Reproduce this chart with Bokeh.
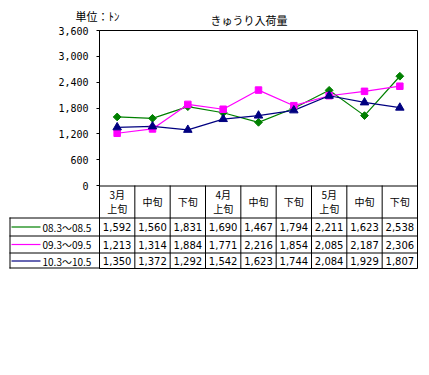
import numpy as np
from bokeh.plotting import figure
from bokeh.models import Range1d, FixedTicker, NumeralTickFormatter
from bokeh.core.properties import value
from bokeh.embed import file_html
from bokeh.resources import INLINE

# ---- data ----
periods = ["3月\n上旬", "中旬", "下旬", "4月\n上旬", "中旬", "下旬", "5月\n上旬", "中旬", "下旬"]
series_names = ["08.3～08.5", "09.3～09.5", "10.3～10.5"]
s08 = [1592, 1560, 1831, 1690, 1467, 1794, 2211, 1623, 2538]
s09 = [1213, 1314, 1884, 1771, 2216, 1854, 2085, 2187, 2306]
s10 = [1350, 1372, 1292, 1542, 1623, 1744, 2084, 1929, 1807]
y_ticks = [0, 600, 1200, 1800, 2400, 3000, 3600]
title_text = "きゅうり入荷量"
unit_text = "単位：ﾄﾝ"

series = [s08, s09, s10]
colors = ["#008000", "#FF00FF", "#000080"]
markers = ["square", "square", "triangle"]
angles = [np.pi / 4, 0, 0]
sizes = [5.5, 6.5, 8.5]

JP = "Noto Sans CJK JP"
NUM = "DejaVu Sans"

# ---- layout (reference pixel coordinates) ----
FR_L, FR_R, FR_T, FR_B = 99, 417, 30, 268
ZERO_Y = 185
YMAX = y_ticks[-1]
y0 = -(FR_B - ZERO_Y) / (ZERO_Y - FR_T) * YMAX
n = len(periods)

p = figure(width=FR_R + 4, height=FR_B + 5, output_backend="svg", toolbar_location=None,
           x_range=Range1d(0, n), y_range=Range1d(y0, YMAX),
           x_axis_location=None,
           min_border_left=FR_L, min_border_right=4,
           min_border_top=FR_T, min_border_bottom=5,
           background_fill_color="white", border_fill_color="white")
p.extra_x_ranges = {"px": Range1d(FR_L, FR_R)}
p.extra_y_ranges = {"px": Range1d(FR_B, FR_T)}
p.xgrid.visible = False
p.ygrid.visible = False
p.outline_line_color = "black"
p.outline_line_width = 1
p.outline_line_alpha = 1

ax = p.yaxis[0]
ax.ticker = FixedTicker(ticks=y_ticks)
ax.formatter = NumeralTickFormatter(format="0,0")
ax.major_tick_out = 3
ax.major_tick_in = 0
ax.minor_tick_out = 0
ax.minor_tick_in = 0
ax.axis_line_color = "black"
ax.major_tick_line_color = "black"
ax.major_label_standoff = 8
ax.major_label_text_font = "DejaVu Sans Mono"
ax.major_label_text_font_size = "10px"
ax.major_label_text_color = "black"

# ---- series ----
xc = [i + 0.5 for i in range(n)]
for vals, c in zip(series, colors):
    p.line(xc, vals, line_color=c, line_width=1.2)
for vals, c, m, a, s in zip(series, colors, markers, angles, sizes):
    p.scatter(xc, vals, marker=m, angle=a, size=s, fill_color=c, line_color=c)

# ---- table grid ----
row_lines = [217, 235, 252]
LEG_L = 9
H = 0.5
p.segment(x0=[FR_L], y0=[ZERO_Y + H], x1=[FR_R], y1=[ZERO_Y + H], line_color="black",
          line_width=1, x_range_name="px", y_range_name="px", level="overlay")
p.segment(x0=[LEG_L] * 4, y0=[r + H for r in row_lines] + [FR_B - H],
          x1=[FR_R] * 3 + [FR_L], y1=[r + H for r in row_lines] + [FR_B - H],
          line_color="black", line_width=1, x_range_name="px", y_range_name="px", level="overlay")
p.segment(x0=[LEG_L + H], y0=[row_lines[0]], x1=[LEG_L + H], y1=[FR_B],
          line_color="black", line_width=1, x_range_name="px", y_range_name="px", level="overlay")
p.segment(x0=list(range(1, n)), y0=[ZERO_Y] * (n - 1), x1=list(range(1, n)), y1=[FR_B] * (n - 1),
          line_color="black", line_width=1, y_range_name="px", level="overlay")

# header texts
p.text(x=xc, y=[(ZERO_Y + row_lines[0]) / 2] * n, text=periods,
       text_font=value(JP), text_font_size="10px", text_align="center",
       text_baseline="middle", text_line_height=0.95, text_color="black",
       y_range_name="px", level="overlay")

# value rows
bounds = row_lines + [FR_B]
for r, vals in enumerate(series):
    yc = (bounds[r] + bounds[r + 1]) / 2 + 0.5
    p.text(x=xc, y=[yc] * n, text=[f"{v:,}" for v in vals],
           text_font=value(NUM), text_font_size="10px", text_align="center",
           text_baseline="middle", text_color="black", y_range_name="px", level="overlay")
    p.segment(x0=[11], y0=[yc], x1=[40], y1=[yc], line_color=colors[r], line_width=1.2,
              x_range_name="px", y_range_name="px", level="overlay")
    p.scatter(x=[25.5], y=[yc], marker=markers[r], angle=angles[r], size=sizes[r] - 0.5,
              fill_color=colors[r], line_color=colors[r],
              x_range_name="px", y_range_name="px", level="overlay")
    p.text(x=[42], y=[yc], text=[series_names[r]], text_font=value(JP),
           text_font_size="10px", text_align="left", text_baseline="middle",
           text_color="black", x_range_name="px", y_range_name="px", level="overlay")

# title and unit
p.text(x=[248.5], y=[19], text=[title_text], text_font=value(JP), text_font_size="11px",
       text_align="center", text_baseline="middle", text_color="black",
       x_range_name="px", y_range_name="px", level="overlay")
p.text(x=[75], y=[15], text=[unit_text], text_font=value(JP), text_font_size="11px",
       text_align="left", text_baseline="middle", text_color="black",
       x_range_name="px", y_range_name="px", level="overlay")

open("out.html", "w").write(file_html(p, INLINE))
